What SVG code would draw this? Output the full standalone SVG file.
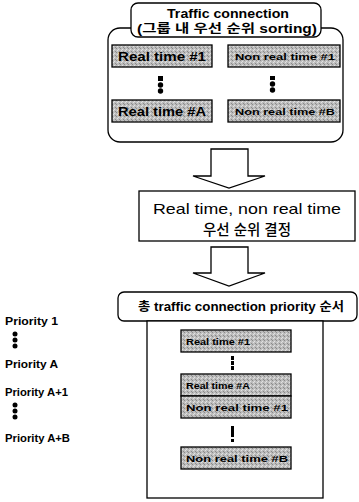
<svg xmlns="http://www.w3.org/2000/svg" width="359" height="502" viewBox="0 0 359 502">
  <defs>
    <!-- halftone fill for the connection cells -->
    <pattern id="grain" width="4" height="4" patternUnits="userSpaceOnUse">
      <rect width="4" height="4" fill="#bdbdbd"/>
      <rect x="0" y="0" width="1" height="1" fill="#8a8a8a"/>
      <rect x="2" y="1" width="1" height="1" fill="#e2e2e2"/>
      <rect x="1" y="2" width="1" height="1" fill="#e2e2e2"/>
      <rect x="3" y="3" width="1" height="1" fill="#8a8a8a"/>
    </pattern>
  </defs>
  <style>
    text { font-family: "Liberation Sans", "Noto Sans CJK KR", sans-serif; fill: #000; }
    .ln { fill: none; stroke: #000; stroke-width: 1.3; }
    .box { fill: #fff; stroke: #000; stroke-width: 1.3; }
    .cell { fill: url(#grain); stroke: #000; stroke-width: 1.3; }
    .b { font-weight: bold; }
    .rt { font-size: 12.5px; font-weight: bold; }
    .sm { font-size: 9.5px; font-weight: bold; }
    .pl { font-size: 10px; font-weight: bold; }
    .dot { fill: #000; }
  </style>

  <!-- sorted connection groups -->
  <g id="group-sort">
    <rect class="ln" x="108" y="28" width="235" height="114" rx="12"/>
    <rect class="box" x="131" y="3" width="190" height="34" rx="7"/>
    <text class="b" x="228" y="18" text-anchor="middle" font-size="13.5" textLength="122" lengthAdjust="spacingAndGlyphs">Traffic connection</text>
    <text class="b" x="227" y="33" text-anchor="middle" font-size="12.5" textLength="180" lengthAdjust="spacingAndGlyphs">(그룹 내 우선 순위 sorting)</text>
  </g>
  <g id="rt-1">
    <rect class="cell" x="112" y="45" width="100" height="22"/>
    <text class="rt" x="162" y="61" text-anchor="middle" textLength="88" lengthAdjust="spacingAndGlyphs">Real time #1</text>
  </g>
  <g id="nrt-1">
    <rect class="cell" x="228" y="45" width="112" height="22"/>
    <text class="sm" x="285" y="60" text-anchor="middle" textLength="100" lengthAdjust="spacingAndGlyphs">Non real time #1</text>
  </g>
  <g id="rt-a">
    <rect class="cell" x="112" y="100" width="100" height="22"/>
    <text class="rt" x="162" y="116" text-anchor="middle" textLength="88" lengthAdjust="spacingAndGlyphs">Real time #A</text>
  </g>
  <g id="nrt-b">
    <rect class="cell" x="228" y="100" width="112" height="22"/>
    <text class="sm" x="285" y="115" text-anchor="middle" textLength="100" lengthAdjust="spacingAndGlyphs">Non real time #B</text>
  </g>
  <g id="dots-top">
    <rect class="dot" x="158" y="76" width="5" height="5"/>
    <circle class="dot" cx="160.5" cy="85" r="2.7"/>
    <circle class="dot" cx="160.5" cy="91" r="2.7"/>
    <rect class="dot" x="270" y="76" width="5" height="4"/>
    <circle class="dot" cx="272.5" cy="84" r="2.7"/>
    <circle class="dot" cx="272.5" cy="90" r="2.7"/>
  </g>

  <!-- priority decision -->
  <g id="decide">
    <rect class="box" x="139" y="191" width="216" height="50"/>
    <text x="247" y="214" text-anchor="middle" font-size="15" textLength="188" lengthAdjust="spacingAndGlyphs">Real time, non real time</text>
    <text x="247" y="235" text-anchor="middle" font-size="14.5" font-weight="500">우선 순위 결정</text>
  </g>

  <!-- overall order -->
  <g id="order-title">
    <rect class="box" x="118" y="292" width="239" height="29" rx="6"/>
    <text class="b" x="241" y="311" text-anchor="middle" font-size="12" textLength="206" lengthAdjust="spacingAndGlyphs">총 traffic connection  priority 순서</text>
  </g>
  <g id="order-list">
    <rect class="box" x="147" y="321" width="176" height="177"/>
  </g>
  <g id="o-rt-1">
    <rect class="cell" x="181" y="330" width="110" height="22"/>
    <text class="sm" x="186" y="345" textLength="64" lengthAdjust="spacingAndGlyphs">Real time #1</text>
  </g>
  <g id="o-rt-a">
    <rect class="cell" x="181" y="374" width="110" height="22"/>
    <text class="sm" x="186" y="389" textLength="64" lengthAdjust="spacingAndGlyphs">Real time #A</text>
  </g>
  <g id="o-nrt-1">
    <rect class="cell" x="181" y="396" width="110" height="22"/>
    <text class="sm" x="186" y="411" textLength="102" lengthAdjust="spacingAndGlyphs">Non real time #1</text>
  </g>
  <g id="o-nrt-b">
    <rect class="cell" x="181" y="447" width="110" height="22"/>
    <text class="sm" x="186" y="462" textLength="102" lengthAdjust="spacingAndGlyphs">Non real time #B</text>
  </g>
  <g id="dots-bottom">
    <rect class="dot" x="231" y="356" width="3" height="4"/>
    <rect class="dot" x="231" y="361" width="3" height="4"/>
    <rect class="dot" x="231" y="366" width="3" height="4"/>
    <rect class="dot" x="231" y="426" width="3" height="11"/>
    <rect class="dot" x="231" y="439" width="3" height="3"/>
  </g>

  <!-- priority labels -->
  <g id="priority-labels">
    <text class="pl" x="5" y="325" textLength="53" lengthAdjust="spacingAndGlyphs">Priority 1</text>
    <circle class="dot" cx="15" cy="334" r="2.5"/>
    <circle class="dot" cx="15" cy="340" r="2.5"/>
    <circle class="dot" cx="15" cy="346" r="2.5"/>
    <text class="pl" x="5" y="368" textLength="53" lengthAdjust="spacingAndGlyphs">Priority A</text>
    <text class="pl" x="5" y="396" textLength="63" lengthAdjust="spacingAndGlyphs">Priority A+1</text>
    <circle class="dot" cx="15" cy="405" r="2.5"/>
    <circle class="dot" cx="15" cy="411" r="2.5"/>
    <circle class="dot" cx="15" cy="417" r="2.5"/>
    <text class="pl" x="5" y="442" textLength="65" lengthAdjust="spacingAndGlyphs">Priority A+B</text>
  </g>

  <!-- flow arrows -->
  <g id="connectors">
    <path class="box" d="M211,149 L248,149 L248,176 L265,176 L229,188 L193,176 L211,176 Z"/>
    <path class="box" d="M211,247 L248,247 L248,273 L265,273 L229,286 L193,273 L211,273 Z"/>
  </g>
</svg>
